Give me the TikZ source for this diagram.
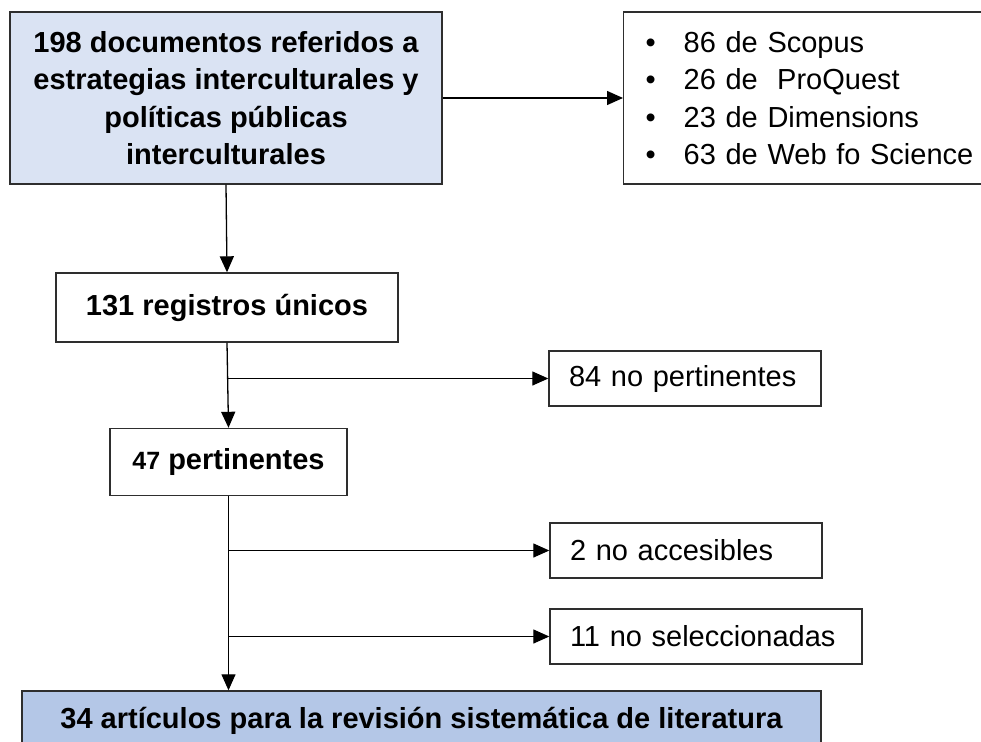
\documentclass[tikz,border=0pt]{standalone}
\usepackage{fontspec}
\setmainfont{Liberation Sans}
\usetikzlibrary{arrows.meta}
\definecolor{lightblue}{HTML}{DAE3F3}
\definecolor{midblue}{HTML}{B4C7E7}
\definecolor{edgegray}{HTML}{2E2E2E}
\begin{document}
\begin{tikzpicture}[x=1pt,y=-1pt,
  box/.style={draw=edgegray, line width=1.4pt, rectangle, inner sep=0pt, align=center,
              font=\fontsize{29}{37.5}\selectfont},
  sidebox/.style={box, align=left, inner xsep=20pt, inner ysep=0pt},
  arr/.style={draw=black, line width=1.3pt, -{Triangle[length=16pt,width=14pt]}}]
\useasboundingbox (0,0) rectangle (981,741);

\node[box, fill=lightblue, minimum width=432pt, minimum height=172pt,
      font=\fontsize{29}{37.5}\selectfont\bfseries] (top) at (226,98)
  {198 documentos referidos a\\estrategias interculturales y\\políticas públicas\\interculturales};

\node[box, anchor=west, align=left, minimum height=172pt, text width=330pt,
      inner xsep=22pt, inner ysep=0pt] (src) at (623,98)
  {\makebox[38pt][l]{\textbullet}86 de Scopus\\
   \makebox[38pt][l]{\textbullet}26 de\ \ ProQuest\\
   \makebox[38pt][l]{\textbullet}23 de Dimensions\\
   \makebox[38pt][l]{\textbullet}63 de Web fo Science};

\node[box, minimum width=342pt, minimum height=69pt,
      font=\fontsize{29}{37.5}\selectfont\bfseries] (reg) at (227,307.5)
  {131 registros únicos};

\node[sidebox, minimum height=55pt, text width=232pt] (np) at (685,378.5)
  {84 no pertinentes};

\node[box, minimum width=237pt, minimum height=67pt,
      font=\fontsize{29}{37.5}\selectfont\bfseries] (pert) at (228.5,462)
  {{\fontsize{25}{28}\selectfont 47} pertinentes};

\node[sidebox, minimum height=55pt, text width=232pt] (acc) at (686,550.5)
  {2 no accesibles};

\node[sidebox, minimum height=55pt, text width=272pt] (sel) at (706,636.5)
  {11 no seleccionadas};

\node[box, fill=midblue, minimum width=799pt, minimum height=60pt,
      font=\fontsize{29}{37.5}\selectfont\bfseries] (fin) at (421.5,721)
  {34 artículos para la revisión sistemática de literatura};

\draw[arr] (top.east) -- (src.west);
\draw[arr] (top.south) -- (reg.north);
\draw[arr] (reg.south) -- (pert.north);
\coordinate (b1) at ([xshift=0.5pt]reg.south |- np.west);
\draw[arr] (b1) -- (np.west);
\draw[arr] (pert.south) -- (pert.south |- fin.north);
\coordinate (b2) at (pert.south |- acc.west);
\coordinate (b3) at (pert.south |- sel.west);
\draw[arr] (b2) -- (acc.west);
\draw[arr] (b3) -- (sel.west);
\end{tikzpicture}
\end{document}
